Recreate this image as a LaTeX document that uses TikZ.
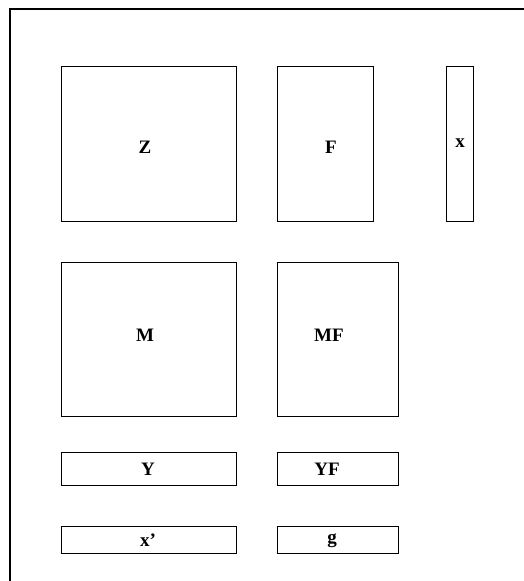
\documentclass[tikz,border=0pt]{standalone}
\usepackage{fontspec}
\setmainfont{Liberation Serif}
\begin{document}
\begin{tikzpicture}[x=1pt,y=-1pt,
  box/.style={draw=black,line width=0.9pt,inner sep=0pt,anchor=center},
  lbl/.style={font=\fontsize{19}{22}\selectfont\bfseries,inner sep=0pt,anchor=center}]
\useasboundingbox (0,0) rectangle (523,581);
\draw[line width=2pt] (10,582) -- (10,9) -- (524,9);
\node[box,minimum width=175pt,minimum height=155pt] (Zb) at (148.5,144) {};
\node[box,minimum width=96pt,minimum height=155pt] (Fb) at (325,144) {};
\node[box,minimum width=27pt,minimum height=155pt] (xb) at (459.5,144) {};
\node[box,minimum width=175pt,minimum height=154pt] (Mb) at (148.5,339) {};
\node[box,minimum width=121pt,minimum height=154pt] (MFb) at (337.5,339) {};
\node[box,minimum width=175pt,minimum height=33pt] (Yb) at (148.5,468.5) {};
\node[box,minimum width=121pt,minimum height=33pt] (YFb) at (337.5,468.5) {};
\node[box,minimum width=175pt,minimum height=27pt] (xpb) at (148.5,539.5) {};
\node[box,minimum width=121pt,minimum height=27pt] (gb) at (337.5,539.5) {};
\node[lbl] (Z) at (145,147) {Z};
\node[lbl] (F) at (331,147) {F};
\node[lbl] (x) at (460,143) {x};
\node[lbl] (M) at (145,335) {M};
\node[lbl] (MF) at (329,335) {MF};
\node[lbl] (Y) at (148,469) {Y};
\node[lbl] (YF) at (327,469) {YF};
\node[lbl] (xp) at (148,540) {x’};
\node[lbl] (g) at (332,541) {g};
\end{tikzpicture}
\end{document}
